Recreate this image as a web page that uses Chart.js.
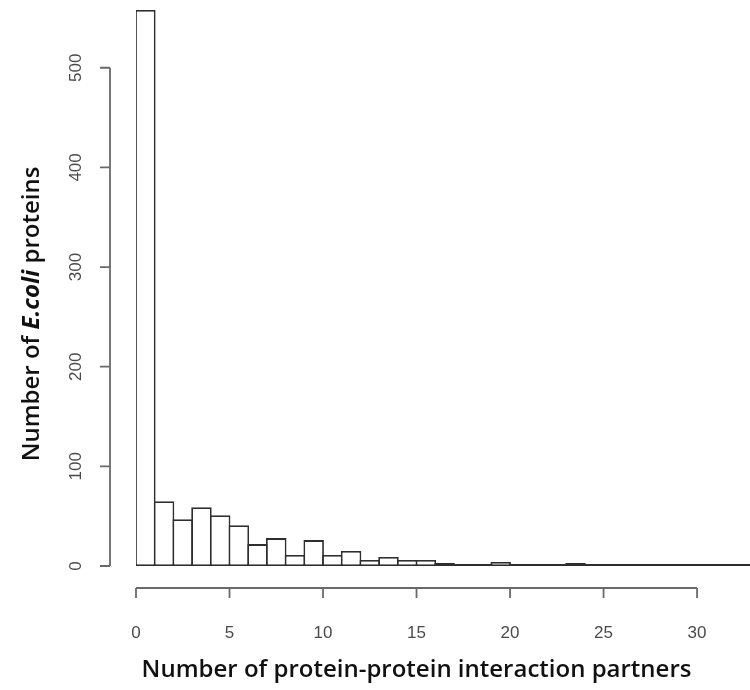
<!DOCTYPE html>
<html>
<head>
<meta charset="utf-8">
<script src="https://cdn.jsdelivr.net/npm/chart.js@4.4.1/dist/chart.umd.min.js"></script>
<style>
  html, body { margin: 0; padding: 0; background: #fff; }
  #wrap { width: 750px; height: 690px; }
</style>
</head>
<body>
<div id="wrap"><canvas id="chart" width="750" height="690"></canvas></div>
<script>
// histogram bins (left edge of each bin, width 1)
const binStart = [0, 1, 2, 3, 4, 5, 6, 7, 8, 9, 10, 11, 12, 13, 14, 15, 16,
  17, 18, 19, 20, 21, 22, 23, 24, 25, 26, 27, 28, 29, 30, 31, 32, 33];
// number of proteins in each bin
const proteinCounts = [558, 65, 47, 59, 51, 41, 22, 28, 11, 26, 11, 15, 6, 9, 6, 6, 3,
  1, 1, 4, 1, 1, 1, 3, 1, 1, 1, 1, 1, 1, 1, 1, 1, 1];
const xTicks = [0, 5, 10, 15, 20, 25, 30];
const yTicks = [0, 100, 200, 300, 400, 500];
const xTitle = "Number of protein-protein interaction partners";
const yTitleParts = ["Number of ", "E.coli", " proteins"];

// R style detached axes + titles, drawn with the chart scales
const rAxes = {
  id: "rAxes",
  afterDraw(chart) {
    const c = chart.ctx;
    const xs = chart.scales.x, ys = chart.scales.y;
    const y0 = ys.getPixelForValue(0);
    const axisX = chart.chartArea.left - 26;
    const axisY = y0 + 22;
    c.save();
    c.strokeStyle = "#6a6a6a";
    c.lineWidth = 1.8;
    c.fillStyle = "#4a4a4a";
    c.font = "17px 'Liberation Sans', Arial, sans-serif";

    // y axis
    c.beginPath();
    c.moveTo(axisX, ys.getPixelForValue(yTicks[0]));
    c.lineTo(axisX, ys.getPixelForValue(yTicks[yTicks.length - 1]));
    yTicks.forEach(t => {
      const p = ys.getPixelForValue(t);
      c.moveTo(axisX, p);
      c.lineTo(axisX - 10, p);
    });
    c.stroke();
    c.textAlign = "center";
    c.textBaseline = "middle";
    yTicks.forEach(t => {
      c.save();
      c.translate(axisX - 34, ys.getPixelForValue(t));
      c.rotate(-Math.PI / 2);
      c.fillText(String(t), 0, 0);
      c.restore();
    });

    // x axis
    c.beginPath();
    c.moveTo(xs.getPixelForValue(xTicks[0]), axisY);
    c.lineTo(xs.getPixelForValue(xTicks[xTicks.length - 1]), axisY);
    xTicks.forEach(t => {
      const p = xs.getPixelForValue(t);
      c.moveTo(p, axisY);
      c.lineTo(p, axisY + 10);
    });
    c.stroke();
    xTicks.forEach(t => {
      c.fillText(String(t), xs.getPixelForValue(t), axisY + 45);
    });

    // axis titles
    c.fillStyle = "#111";
    const titleFont = "600 24px 'Open Sans', sans-serif";
    c.font = titleFont;
    const cx = (xs.getPixelForValue(xTicks[0]) + xs.getPixelForValue(xTicks[xTicks.length - 1])) / 2;
    c.fillText(xTitle, cx, 670);

    const fonts = [titleFont, "italic 700 24px 'Open Sans', sans-serif", titleFont];
    let total = 0;
    const widths = yTitleParts.map((s, i) => {
      c.font = fonts[i];
      const w = c.measureText(s).width;
      total += w;
      return w;
    });
    c.save();
    c.translate(32, 314);
    c.rotate(-Math.PI / 2);
    c.textAlign = "left";
    let pos = -total / 2;
    yTitleParts.forEach((s, i) => {
      c.font = fonts[i];
      c.fillText(s, pos, 0);
      pos += widths[i];
    });
    c.restore();
    c.restore();
  }
};

const ctx = document.getElementById("chart");
new Chart(ctx, {
  type: "bar",
  data: {
    datasets: [{
      data: binStart.map((b, i) => ({ x: b + 0.5, y: proteinCounts[i] })),
      backgroundColor: "#ffffff",
      borderColor: "#2e2e2e",
      borderWidth: 1.8,
      borderSkipped: false,
      inflateAmount: 0,
      minBarLength: 2,
      barPercentage: 1.096,   // neighbouring borders overlap into one line
      categoryPercentage: 1
    }]
  },
  options: {
    responsive: false,
    animation: false,
    layout: { padding: { left: 136, right: 0, top: 0, bottom: 124 } },
    plugins: { legend: { display: false }, tooltip: { enabled: false } },
    scales: {
      x: { type: "linear", min: 0, max: 32.83, offset: false, display: false },
      y: { min: 0, max: 568, display: false }
    }
  },
  plugins: [rAxes]
});
</script>
</body>
</html>
